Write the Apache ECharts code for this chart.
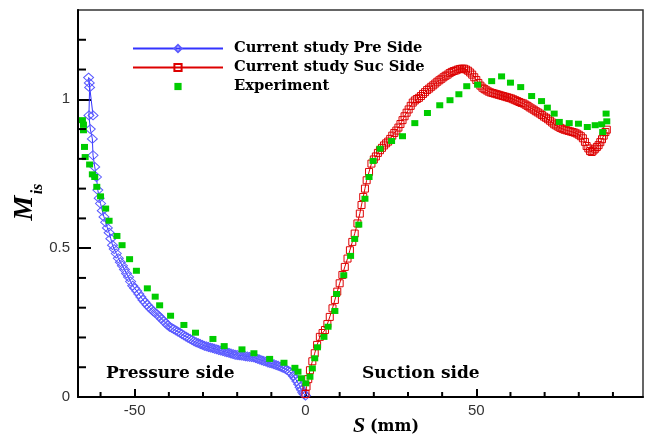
<!DOCTYPE html>
<html>
<head>
<meta charset="utf-8">
<script src="https://cdn.jsdelivr.net/npm/echarts@6/dist/echarts.min.js"></script>
<style>
html,body{margin:0;padding:0;background:#fff;}
#chart{width:646px;height:437px;}
</style>
</head>
<body>
<div id="chart"></div>
<script>
// ---- Data ----
const seriesNames = ['Current study Pre Side', 'Current study Suc Side', 'Experiment'];

const preS = [-62.2,-63.5,-63.3,-63.2,-63.4,-63.0,-62.4,-62.2,-61.7,-61.2,-60.8,-60.4,-60.0,-59.5,-59.0,-58.5,-58.0,-57.5,-57.0,-56.5,-56.0,-55.4,-54.8,-54.2,-53.6,-53.0,-52.4,-51.8,-51.2,-50.6,-50.0,-49.4,-48.8,-48.2,-47.6,-47.0,-46.4,-45.8,-45.2,-44.6,-44.0,-43.4,-42.8,-42.2,-41.6,-41.0,-40.4,-39.8,-39.2,-38.6,-38.0,-37.4,-36.8,-36.2,-35.6,-35.0,-34.4,-33.8,-33.2,-32.6,-32.0,-31.4,-30.8,-30.2,-29.6,-29.0,-28.4,-27.8,-27.2,-26.6,-26.0,-25.4,-24.8,-24.2,-23.6,-23.0,-22.4,-21.8,-21.2,-20.6,-20.0,-19.4,-18.8,-18.2,-17.6,-17.0,-16.4,-15.8,-15.2,-14.6,-14.0,-13.4,-12.8,-12.2,-11.6,-11.0,-10.4,-9.8,-9.2,-8.6,-8.0,-7.4,-6.8,-6.2,-5.6,-5.0,-4.5,-4.0,-3.5,-3.0,-2.5,-2.0,-1.6,-1.2,-0.8,-0.4,0.0];
const preM = [0.946,1.073,1.055,1.040,0.946,0.900,0.867,0.812,0.773,0.739,0.695,0.668,0.650,0.626,0.605,0.587,0.568,0.552,0.532,0.510,0.497,0.482,0.466,0.453,0.441,0.428,0.415,0.403,0.388,0.374,0.365,0.356,0.346,0.336,0.326,0.318,0.310,0.302,0.295,0.288,0.283,0.277,0.270,0.263,0.256,0.249,0.242,0.236,0.232,0.228,0.224,0.220,0.216,0.211,0.207,0.203,0.199,0.195,0.191,0.187,0.184,0.181,0.178,0.175,0.172,0.170,0.168,0.166,0.164,0.162,0.160,0.158,0.156,0.154,0.152,0.150,0.148,0.146,0.144,0.142,0.141,0.140,0.139,0.138,0.137,0.136,0.135,0.134,0.133,0.131,0.128,0.126,0.123,0.121,0.119,0.116,0.114,0.112,0.110,0.107,0.105,0.102,0.099,0.096,0.092,0.088,0.084,0.078,0.070,0.062,0.053,0.043,0.033,0.024,0.015,0.009,0.005];

const sucS = [0.0,0.3,0.8,1.3,2.0,2.7,3.4,4.2,5.0,5.7,6.4,7.1,7.9,8.6,9.3,10.0,10.8,11.5,12.3,13.0,13.7,14.4,15.2,15.9,16.4,16.9,17.4,17.9,18.6,19.3,20.0,20.6,21.2,21.8,22.4,23.0,23.6,24.2,24.8,25.4,26.0,26.6,27.2,27.8,28.4,29.0,29.6,30.2,30.8,31.4,32.0,32.6,33.2,33.8,34.4,35.0,35.6,36.2,36.8,37.4,38.0,38.6,39.2,39.8,40.4,41.0,41.6,42.2,42.8,43.4,44.0,44.6,45.2,45.8,46.4,47.0,47.6,48.2,48.8,49.4,50.0,50.6,51.2,51.8,52.4,53.0,53.6,54.2,54.8,55.4,56.0,56.6,57.2,57.8,58.4,59.0,59.6,60.2,60.8,61.4,62.0,62.6,63.2,63.8,64.4,65.0,65.6,66.2,66.8,67.4,68.0,68.6,69.2,69.8,70.4,71.0,71.6,72.2,72.8,73.4,74.0,74.6,75.2,75.8,76.4,77.0,77.6,78.2,78.8,79.4,80.0,80.6,81.2,81.8,82.3,82.8,83.3,83.8,84.3,84.8,85.3,85.8,86.3,86.8,87.3,87.8,88.2];
const sucM = [0.010,0.035,0.060,0.090,0.120,0.147,0.175,0.202,0.215,0.225,0.245,0.269,0.298,0.326,0.354,0.382,0.410,0.437,0.465,0.493,0.521,0.549,0.583,0.616,0.645,0.672,0.700,0.728,0.756,0.784,0.798,0.808,0.820,0.829,0.837,0.845,0.852,0.858,0.867,0.878,0.887,0.895,0.905,0.917,0.930,0.943,0.955,0.966,0.978,0.989,0.996,1.001,1.005,1.011,1.018,1.024,1.031,1.036,1.042,1.047,1.053,1.059,1.064,1.069,1.074,1.079,1.083,1.088,1.092,1.095,1.097,1.100,1.102,1.103,1.103,1.100,1.096,1.090,1.083,1.074,1.065,1.055,1.046,1.039,1.034,1.030,1.026,1.023,1.021,1.019,1.017,1.015,1.013,1.011,1.009,1.007,1.005,1.003,1.000,0.997,0.994,0.991,0.988,0.986,0.982,0.978,0.973,0.969,0.965,0.960,0.956,0.952,0.947,0.942,0.938,0.933,0.928,0.922,0.916,0.912,0.908,0.904,0.901,0.898,0.896,0.894,0.892,0.890,0.888,0.885,0.881,0.876,0.869,0.857,0.843,0.835,0.826,0.823,0.828,0.834,0.840,0.846,0.856,0.866,0.878,0.890,0.898];

const expS = [-65.3,-65.0,-65.0,-64.7,-64.5,-63.2,-62.4,-61.7,-61.1,-60.0,-58.5,-57.5,-55.2,-53.7,-51.5,-49.5,-46.3,-44.0,-42.7,-39.5,-35.6,-32.2,-27.1,-23.8,-18.6,-15.1,-10.5,-6.3,-3.1,-2.2,-1.2,0.1,1.3,2.0,2.7,3.5,5.4,6.6,8.6,9.1,11.2,13.2,14.4,15.6,17.4,18.6,19.8,21.8,25.2,28.4,32.0,35.7,39.3,42.3,44.9,47.2,50.4,54.5,57.4,60.0,63.0,66.2,69.1,70.8,72.8,74.3,77.2,79.9,82.5,84.8,86.7,87.0,88.2,88.0];
const expM = [0.930,0.915,0.896,0.840,0.806,0.781,0.748,0.739,0.706,0.674,0.633,0.592,0.541,0.510,0.463,0.424,0.365,0.337,0.308,0.273,0.242,0.216,0.195,0.171,0.160,0.147,0.128,0.115,0.098,0.085,0.063,0.046,0.068,0.096,0.130,0.167,0.202,0.236,0.289,0.346,0.409,0.474,0.531,0.579,0.666,0.739,0.793,0.834,0.860,0.876,0.920,0.954,0.980,0.997,1.017,1.044,1.049,1.061,1.077,1.056,1.041,1.011,0.994,0.972,0.952,0.924,0.920,0.918,0.907,0.913,0.916,0.890,0.926,0.952];

const xMajorTicks = [-50, 0, 50];
const xMinorTicks = [-60, -40, -30, -20, -10, 10, 20, 30, 40, 60, 70, 80, 90];
const yMajorTicks = [0, 0.5, 1];
const yMinorTicks = [0.1, 0.2, 0.3, 0.4, 0.6, 0.7, 0.8, 0.9, 1.1, 1.2];
const xRange = [-66.6, 98.8];
const yRange = [0, 1.3];

const zip = (a, b) => a.map((v, i) => [v, b[i]]);

// ---- Chart ----
const chart = echarts.init(document.getElementById('chart'), null, {renderer: 'canvas'});
const serif = '"DejaVu Serif", serif';
const tnr = '"Liberation Serif", serif';

// minor tick marks, placed through the axes' own scales
function tickSeries(name, data, dx, dy) {
  return {
    name: name, type: 'custom', coordinateSystem: 'cartesian2d', silent: true, clip: false, z: 10,
    encode: {x: 0, y: 1},
    data: data,
    renderItem: function (params, api) {
      const p = api.coord([api.value(0), api.value(1)]);
      return {type: 'line', z2: 100,
              shape: {x1: p[0], y1: p[1], x2: p[0] + dx, y2: p[1] + dy},
              style: {stroke: '#000', lineWidth: 2}};
    }
  };
}

const option = {
  animation: false,
  backgroundColor: '#fff',
  grid: {left: 78, right: 3, top: 10, bottom: 40, show: true, borderColor: '#333', borderWidth: 1.5, containLabel: false},
  xAxis: {
    type: 'value', min: xRange[0], max: xRange[1],
    axisLine: {show: true, onZero: false, lineStyle: {color: '#000', width: 2}},
    axisTick: {show: true, inside: true, length: 8, customValues: xMajorTicks, lineStyle: {color: '#000', width: 2}},
    axisLabel: {customValues: xMajorTicks, margin: 6, fontSize: 15, color: '#333', fontFamily: '"Liberation Sans", sans-serif'},
    splitLine: {show: false}
  },
  yAxis: {
    type: 'value', min: yRange[0], max: yRange[1],
    axisLine: {show: true, onZero: false, lineStyle: {color: '#000', width: 2}},
    axisTick: {show: true, inside: true, length: 13, customValues: yMajorTicks, lineStyle: {color: '#000', width: 2}},
    axisLabel: {customValues: yMajorTicks, margin: 8, fontSize: 15, color: '#333', fontFamily: '"Liberation Sans", sans-serif'},
    splitLine: {show: false}
  },
  legend: {
    orient: 'vertical', left: 132, top: 41, padding: 0,
    itemWidth: 90, itemHeight: 9, itemGap: 4,
    data: seriesNames,
    textStyle: {fontFamily: serif, fontWeight: 'bold', fontSize: 14.7, color: '#000', lineHeight: 14, padding: [0, 0, 0, 6]}
  },
  series: [
    {
      name: seriesNames[0], type: 'line',
      data: zip(preS, preM), symbol: 'diamond', symbolSize: [10, 9], showAllSymbol: true,
      lineStyle: {color: '#3333ff', width: 1},
      itemStyle: {color: 'rgba(255,255,255,0)', borderColor: '#5a5aff', borderWidth: 1},
      z: 2
    },
    {
      name: seriesNames[1], type: 'line',
      data: zip(sucS, sucM), symbol: 'rect', symbolSize: [7, 7], showAllSymbol: true,
      lineStyle: {color: '#dd0000', width: 1},
      itemStyle: {color: 'rgba(255,255,255,0)', borderColor: '#dd0000', borderWidth: 1},
      z: 3
    },
    {
      name: seriesNames[2], type: 'line',
      data: zip(expS, expM), symbol: 'rect', symbolSize: [7, 6], showAllSymbol: true,
      lineStyle: {width: 0, opacity: 0},
      itemStyle: {color: '#00cc00'},
      z: 4
    },
    tickSeries('xMinor', xMinorTicks.map(v => [v, yRange[0]]), 0, -5),
    tickSeries('yMinor', yMinorTicks.map(v => [xRange[0], v]), 8, 0)
  ],
  graphic: [
    {type: 'text', x: 106, y: 374, style: {text: 'Pressure side', font: 'bold 17px ' + serif, fill: '#000', verticalAlign: 'middle'}},
    {type: 'text', x: 362, y: 374, style: {text: 'Suction side', font: 'bold 17px ' + serif, fill: '#000', verticalAlign: 'middle'}},
    {type: 'text', x: 25, y: 208, rotation: Math.PI / 2, style: {text: 'M', font: 'italic bold 28px ' + tnr, fill: '#000', align: 'center', verticalAlign: 'middle'}},
    {type: 'text', x: 38, y: 189, rotation: Math.PI / 2, style: {text: 'is', font: 'italic bold 16px ' + tnr, fill: '#000', align: 'center', verticalAlign: 'middle'}},
    {type: 'text', x: 353, y: 426, style: {text: 'S', font: 'italic bold 22px ' + tnr, fill: '#000', verticalAlign: 'middle'}},
    {type: 'text', x: 370, y: 427, style: {text: '(mm)', font: 'bold 16px ' + serif, fill: '#000', verticalAlign: 'middle'}}
  ]
};
chart.setOption(option);
</script>
</body>
</html>
